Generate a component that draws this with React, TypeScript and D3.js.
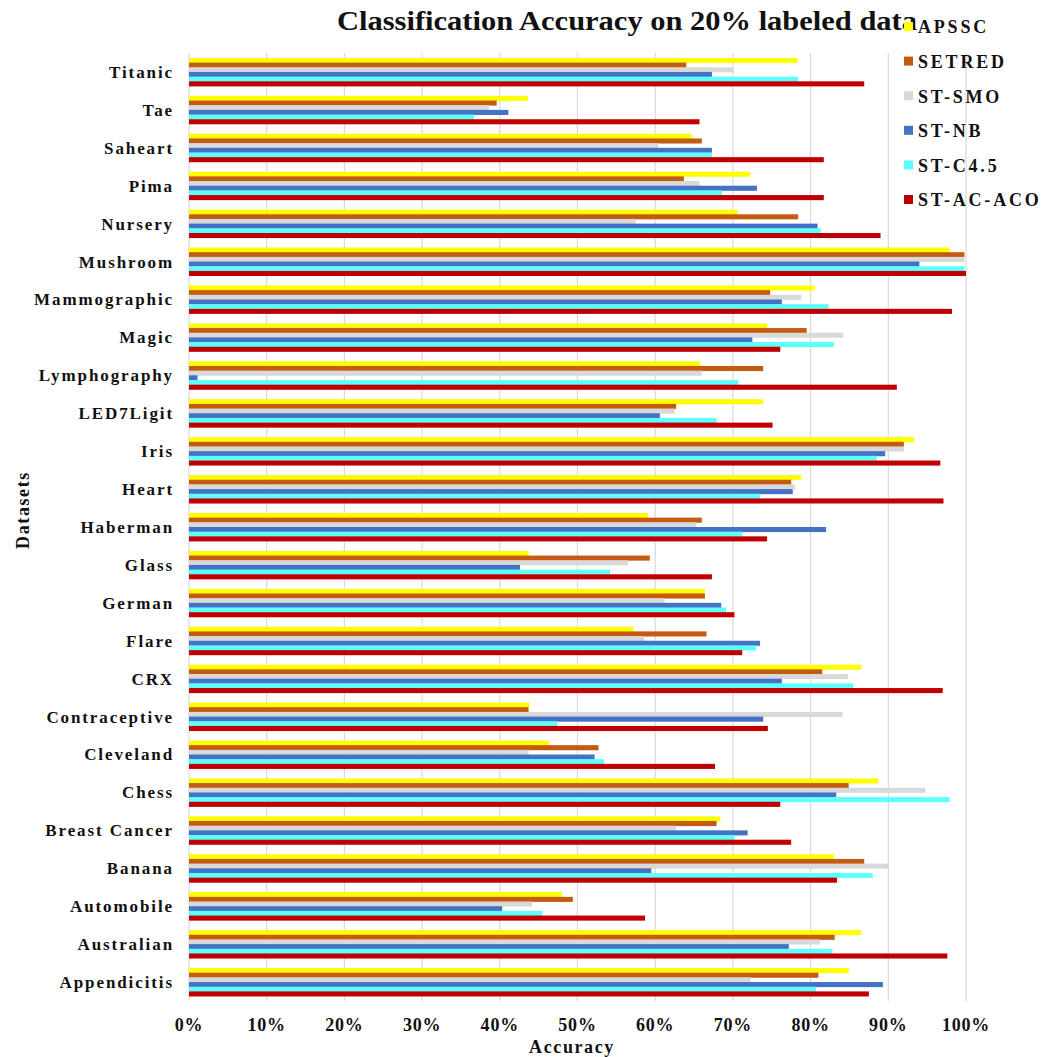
import React from "react";
import * as d3 from "d3";

// Datasets, listed from the bottom of the chart to the top
const datasets = [
  "Appendicitis", "Australian", "Automobile", "Banana", "Breast Cancer", "Chess",
  "Cleveland", "Contraceptive", "CRX", "Flare", "German", "Glass", "Haberman",
  "Heart", "Iris", "LED7Ligit", "Lymphography", "Magic", "Mammographic",
  "Mushroom", "Nursery", "Pima", "Saheart", "Tae", "Titanic",
];

const seriesNames = ["APSSC", "SETRED", "ST-SMO", "ST-NB", "ST-C4.5", "ST-AC-ACO"];
const seriesColors = ["#FFFF00", "#C55A11", "#D9D9D9", "#4472C4", "#5EFFFF", "#C00000"];

// Accuracy (%) per dataset, same order as `datasets`
const apssc = [84.9, 86.5, 48.0, 83.0, 68.4, 88.7, 46.3, 43.8, 86.5, 57.2, 66.4, 43.7, 59.1, 78.8, 93.3, 73.9, 65.8, 74.4, 80.5, 97.9, 70.6, 72.2, 64.7, 43.6, 78.3];
const setred = [81.0, 83.1, 49.4, 86.9, 67.9, 84.9, 52.7, 43.7, 81.5, 66.6, 66.4, 59.3, 66.0, 77.5, 92.0, 62.7, 73.9, 79.5, 74.8, 99.8, 78.4, 63.7, 66.0, 39.6, 64.0];
const stSmo = [72.3, 81.2, 44.2, 90.1, 62.7, 94.8, 43.7, 84.1, 84.8, 58.6, 61.2, 56.5, 65.3, 78.0, 92.0, 62.5, 66.0, 84.2, 78.8, 99.8, 57.5, 65.7, 60.4, 38.6, 70.1];
const stNb = [89.3, 77.2, 40.3, 59.5, 71.9, 83.3, 52.2, 73.9, 76.3, 73.5, 68.5, 42.6, 82.0, 77.7, 89.6, 60.6, 1.1, 72.5, 76.3, 94.0, 80.9, 73.1, 67.3, 41.1, 67.3];
const stC45 = [80.7, 82.8, 45.5, 88.0, 70.2, 97.9, 53.4, 47.4, 85.5, 73.0, 69.1, 54.2, 71.2, 73.5, 88.5, 67.9, 70.7, 83.0, 82.3, 99.8, 81.3, 68.6, 67.3, 36.7, 78.4];
const stAcAco = [87.5, 97.6, 58.7, 83.4, 77.5, 76.1, 67.7, 74.5, 97.0, 71.2, 70.2, 67.3, 74.4, 97.1, 96.7, 75.1, 91.1, 76.1, 98.2, 100.0, 89.0, 81.7, 81.7, 65.7, 86.9];

const seriesValues = [apssc, setred, stSmo, stNb, stC45, stAcAco];
const xTicks = [0, 10, 20, 30, 40, 50, 60, 70, 80, 90, 100];

const W = 1057;
const H = 1057;
const left = 189;
const right = 966;
const top = 53;
const bottom = 1001;
const font = "'Liberation Serif', 'Times New Roman', serif";

export default function App() {
  const x = d3.scaleLinear().domain([0, 100]).range([left, right]);
  const y = d3
    .scaleBand<string>()
    .domain([...datasets].reverse())
    .range([top, bottom])
    .paddingInner(0.26)
    .paddingOuter(0.13);
  const inner = d3
    .scaleBand<string>()
    .domain(seriesNames)
    .range([0, y.bandwidth()]);

  return (
    <svg
      width={W}
      height={H}
      style={{ position: "absolute", left: 0, top: 0, background: "#fff" }}
      fontFamily={font}
    >
      {/* vertical gridlines */}
      {xTicks.map((t) => (
        <line
          key={`g${t}`}
          x1={x(t)}
          x2={x(t)}
          y1={top}
          y2={bottom}
          stroke="#D9D9D9"
          strokeWidth={1.2}
        />
      ))}

      {/* bars */}
      {datasets.map((d, i) => (
        <g key={d} transform={`translate(0,${y(d)})`}>
          {seriesNames.map((s, k) => (
            <rect
              key={s}
              x={x(0)}
              y={inner(s)!}
              width={x(seriesValues[k][i]) - x(0)}
              height={inner.bandwidth() + 0.4}
              fill={seriesColors[k]}
            />
          ))}
        </g>
      ))}

      {/* category labels */}
      {datasets.map((d) => (
        <text
          key={`l${d}`}
          x={174}
          y={y(d)! + y.bandwidth() / 2}
          dy="0.35em"
          textAnchor="end"
          fontSize={17}
          fontWeight="bold"
          letterSpacing={1.9}
          fill="#111"
        >
          {d}
        </text>
      ))}

      {/* x tick labels */}
      {xTicks.map((t) => (
        <text
          key={`t${t}`}
          x={x(t)}
          y={1031}
          textAnchor="middle"
          fontSize={18}
          fontWeight="bold"
          letterSpacing={0.8}
          fill="#111"
        >
          {`${t}%`}
        </text>
      ))}

      {/* axis titles */}
      <text x={572} y={1053} textAnchor="middle" fontSize={18} fontWeight="bold" letterSpacing={1.6} fill="#111">
        Accuracy
      </text>
      <text
        transform={`translate(29,510) rotate(-90)`}
        textAnchor="middle"
        fontSize={18}
        fontWeight="bold"
        letterSpacing={1.6}
        fill="#111"
      >
        Datasets
      </text>

      {/* chart title */}
      <text
        x={627}
        y={30}
        textAnchor="middle"
        fontSize={27}
        fontWeight="bold"
        fill="#111"
        textLength={580}
        lengthAdjust="spacingAndGlyphs"
      >
        Classification Accuracy on 20% labeled data
      </text>

      {/* legend */}
      {seriesNames.map((s, k) => (
        <g key={`lg${s}`} transform={`translate(904,${27 + k * 34.6})`}>
          <rect x={0} y={-5} width={9} height={9} fill={seriesColors[k]} />
          <text x={14} y={0} dy="0.35em" fontSize={18} fontWeight="bold" letterSpacing={2.8} fill="#111">
            {s}
          </text>
        </g>
      ))}
    </svg>
  );
}
